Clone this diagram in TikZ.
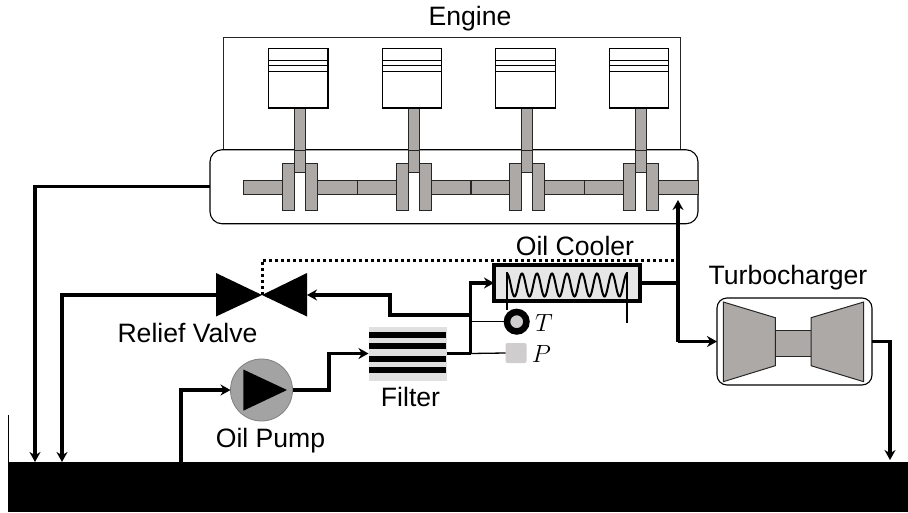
\documentclass[tikz,border=0pt]{standalone}
\usepackage{amsmath,amssymb}
\usepackage{fontspec}
\setmainfont{Liberation Sans}
\usepackage{tikz}
\usetikzlibrary{arrows.meta,calc}

\definecolor{partgray}{HTML}{ADA9A7}
\definecolor{pumpgray}{HTML}{A3A3A3}
\definecolor{filtergray}{HTML}{E0E0E0}
\definecolor{coolergray}{HTML}{E6E6E6}
\definecolor{sensorgray}{HTML}{CFCDCD}
\tikzset{
    oil/.style={line width=3.3pt, -{Stealth[length=10pt,width=11pt]}},
    oilline/.style={line width=3.3pt},
    part/.style={draw=black!85, fill=partgray, line width=1pt},
    thinline/.style={line width=1.3pt},
    label/.style={font=\fontsize{26.6}{26.6}\selectfont, inner sep=0pt},
    box/.style={draw=black, inner sep=0pt, outer sep=0pt},
}

\begin{document}
\begin{tikzpicture}[x=1pt, y=-1pt]
    \useasboundingbox (0,0) rectangle (908,512);

    % engine block
    \draw[line width=1pt, black!85] (223,150) -- (223,37) -- (680,37) -- (680,150);
    \node[label] (engine) at (470,19) {Engine};

    % crankcase
    \node[box, line width=1.1pt, fill=white, rounded corners=12pt, minimum width=488pt, minimum height=74pt] (crankcase) at (454,186.75) {};

    % pistons, rods and crank webs
    \draw[part] (243,180) rectangle (282.5,194);
    \foreach \x in {0,113.6,227.2,340.8} {
        \draw[part] (317.5+\x,180) rectangle (357.3+\x,194);
        \draw[part] (282.5+\x,163) rectangle (294.5+\x,210);
        \draw[part] (305.5+\x,163) rectangle (317.5+\x,210);
        \draw[part] (294.5+\x,108) rectangle (305.5+\x,172.5);
        \draw[line width=1pt, black!85] (294.5+\x,150) -- (305.5+\x,150);
        \draw[line width=1.1pt, fill=white] (268.5+\x,48.5) rectangle (328+\x,108);
        \foreach \y in {60.5,65.5,71.5} {
            \draw[line width=0.8pt] (268.5+\x,\y) -- (328+\x,\y);
        }
    }
    \draw[part] (357.5,180) rectangle (396.1,194);
    \draw[part] (471.1,180) rectangle (509.7,194);
    \draw[part] (584.7,180) rectangle (623.3,194);

    % oil tank
    \fill[black] (8,462) rectangle (908,512);
    \draw[line width=1pt] (8.5,415) -- (8.5,462);
    \coordinate (returnA) at (35,462);
    \coordinate (returnB) at (62,462);
    \coordinate (suction) at (181,462);
    \coordinate (drain) at (890,460);

    % relief valve
    \coordinate (valve) at (262,295);
    \coordinate (valveL) at (216,295);
    \coordinate (valveR) at (307,295);
    \fill (216,273) -- (valve) -- (216,316.5) -- cycle;
    \fill (307,273) -- (valve) -- (307,316.5) -- cycle;
    \node[label] (valvelabel) at (187.5,333) {Relief Valve};

    % oil pump
    \node[circle, draw=gray, fill=pumpgray, line width=0.8pt, inner sep=0pt, outer sep=0pt, minimum size=62pt] (pump) at (261.5,390) {};
    \fill (243.3,369.5) -- (287,390) -- (243.3,410.7) -- cycle;
    \node[label] (pumplabel) at (270.5,441) {Oil Pump};

    % filter
    \node[fill=filtergray, inner sep=0pt, outer sep=0pt, minimum width=78pt, minimum height=54pt] (filter) at (407.5,353.5) {};
    \foreach \y in {332,343,356,367} {
        \fill (369,\y) rectangle (446,\y+5.5);
    }
    \node[label] (filterlabel) at (410.5,397) {Filter};

    % oil cooler
    \node[box, fill=coolergray, line width=4pt, minimum width=146pt, minimum height=36pt] (cooler) at (567,283) {};
    \draw[line width=2pt] plot[domain=0:8, samples=200, smooth] ({507+15*\x}, {285-11.5*cos(360*\x)});
    \node[label] (coolerlabel) at (575,246) {Oil Cooler};

    % sensors
    \node[circle, draw=black, fill=sensorgray, line width=6.5pt, inner sep=0pt, outer sep=0pt, minimum size=19.5pt] (tsensor) at (516.7,321.7) {};
    \node[fill=sensorgray, rounded corners=2pt, inner sep=0pt, outer sep=0pt, minimum width=21pt, minimum height=20pt] (psensor) at (516,353) {};
    \node[font=\fontsize{26}{26}\selectfont, inner sep=0pt] (tlabel) at (544,323) {$T$};
    \node[font=\fontsize{26}{26}\selectfont, inner sep=0pt] (plabel) at (541.5,354) {$P$};
    \draw[thinline] (507,272) -- (507,310);
    \draw[thinline] (627,272) -- (627,323);

    % turbocharger
    \node[box, line width=1.1pt, rounded corners=10pt, minimum width=155pt, minimum height=87pt] (turbo) at (794.5,341.5) {};
    \draw[part] (775.3,330) rectangle (811,356);
    \draw[part] (723.3,302) -- (775.3,317.7) -- (775.3,365.7) -- (723.3,381.7) -- cycle;
    \draw[part] (863.7,302) -- (811,317.7) -- (811,365.7) -- (863.7,381.7) -- cycle;
    \node[label] (turbolabel) at (788,278) {Turbocharger};

    % oil lines
    \coordinate (junctionA) at (470.5,353.5);
    \coordinate (junctionB) at (470.5,315);
    \coordinate (junctionC) at (678,283);
    \coordinate (junctionD) at (678,341.5);
    \coordinate (engineinlet) at (678,200);
    \draw[oil] (crankcase.west) -| (returnA);
    \draw[oil] (valveL) -| (returnB);
    \draw[oil] (suction) |- (pump.west);
    \draw[oil] (pump.east) -- (329,390) |- (filter.west);
    \draw[oilline] (filter.east) -- (junctionA);
    \draw[oil] (junctionA) |- (cooler.west);
    \draw[oil] (junctionB) -- (390,315) |- (valveR);
    \draw[oilline] (cooler.east) -- (junctionC);
    \draw[oil] (junctionD) -- (engineinlet);
    \draw[oil] (junctionD) -- (turbo.west);
    \draw[oil] (turbo.east) -| (drain);
    \draw[line width=3pt, dash pattern=on 3pt off 3pt] (valve) -- (262,260) -- (678,260);

    % sensor lines
    \draw[thinline] (470.5,321.7) -- (tsensor.west);
    \draw[thinline] (junctionA) -- (psensor.west);
\end{tikzpicture}
\end{document}
